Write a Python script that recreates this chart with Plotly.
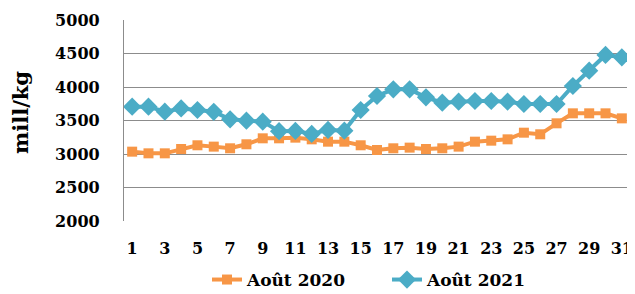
import plotly.graph_objects as go

days = list(range(1, 32))
aout_2020 = [3035, 3010, 3010, 3075, 3130, 3110, 3085, 3145, 3234, 3234, 3244, 3219, 3184, 3184, 3130,
             3060, 3085, 3095, 3075, 3085, 3110, 3184, 3199, 3219, 3318, 3294, 3458, 3607, 3607, 3607, 3532]
aout_2021 = [3706, 3706, 3632, 3680, 3657, 3630, 3517, 3497, 3483, 3340, 3345, 3299, 3360, 3348, 3657,
             3866, 3965, 3965, 3846, 3766, 3781, 3791, 3791, 3781, 3746, 3746, 3746, 4015, 4244, 4478, 4443]
tick_days = list(range(1, 32, 2))
y_ticks = [2000, 2500, 3000, 3500, 4000, 4500, 5000]

FONT = "DejaVu Serif"
fig = go.Figure()
fig.add_trace(go.Scatter(x=days, y=aout_2020, name="<b>Août 2020</b>", mode="lines+markers",
                         line=dict(color="#F79646", width=4),
                         marker=dict(symbol="square", size=10, color="#F79646")))
fig.add_trace(go.Scatter(x=days, y=aout_2021, name="<b>Août 2021</b>", mode="lines+markers",
                         line=dict(color="#4BACC6", width=4),
                         marker=dict(symbol="diamond", size=14, color="#4BACC6")))

# the page body adds an 8px margin; size the figure to compensate
fig.update_layout(
    width=627, height=286,
    margin=dict(l=116, r=5, t=12, b=73, autoexpand=False),
    paper_bgcolor="white", plot_bgcolor="white",
    font=dict(family=FONT, size=16, color="black"),
    showlegend=True,
    legend=dict(orientation="h", x=0.164, xanchor="left", y=0.049, yanchor="middle",
                yref="container",
                font=dict(family=FONT, size=17, color="black"),
                entrywidth=135, entrywidthmode="pixels", tracegroupgap=0),
    xaxis=dict(range=[0.5, 31.5], tickmode="array", tickvals=tick_days,
               ticktext=[f"<b>{d}</b>" for d in tick_days],
               showgrid=False, zeroline=False, showline=False, ticks="",
               ticklabelstandoff=16, automargin=False),
    yaxis=dict(range=[2000, 5000], tickmode="array", tickvals=y_ticks,
               ticktext=[f"<b>{v}</b>" for v in y_ticks],
               showgrid=True, gridcolor="#8c8c8c", gridwidth=1.3, zeroline=False,
               showline=True, linecolor="#8c8c8c", linewidth=1.3, ticks="",
               ticklabelstandoff=20, automargin=False),
    annotations=[dict(text="<b>mill/kg</b>", textangle=-90, xref="paper", yref="paper",
                      x=-0.2056, y=0.542, xanchor="center", yanchor="middle", showarrow=False,
                      font=dict(family=FONT, size=21, color="black"))],
)
fig.write_html("out.html")
